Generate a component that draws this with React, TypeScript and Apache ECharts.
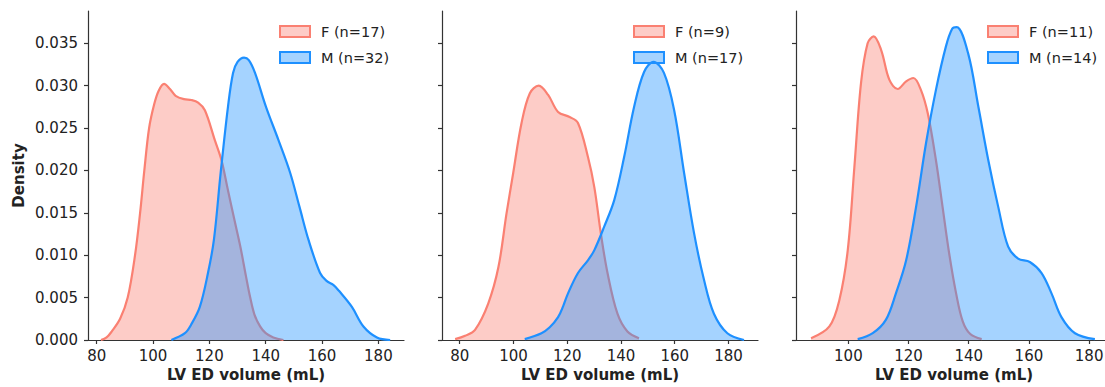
import React, { useEffect, useRef } from "react";
import * as echarts from "echarts";

// Panel 1
const p1F_x = [81.5, 83.5, 85.3, 88.3, 91.0, 93.6, 95.4, 96.9, 98.6, 100.4, 102, 103.9, 106, 108, 111, 113.6, 116, 118.4, 121.9, 124.3, 126.5, 129, 131, 133, 134.5, 136, 138, 140, 142.7, 146.3];
const p1F_y = [0.0, 0.0003, 0.001, 0.0025, 0.005, 0.01, 0.015, 0.02, 0.025, 0.0278, 0.0294, 0.0302, 0.0296, 0.0288, 0.0284, 0.0283, 0.028, 0.0271, 0.0236, 0.0212, 0.0178, 0.014, 0.011, 0.0075, 0.005, 0.003, 0.0016, 0.0008, 0.0003, 0.0];
const p1M_x = [106.5, 111.3, 113.5, 116.6, 119.5, 121.6, 124, 126.6, 128.4, 130, 132.3, 134, 136.2, 140.1, 144.5, 148.7, 152, 155.2, 159.3, 161.5, 164, 166, 170.6, 174.7, 179.5, 184.2];
const p1M_y = [0.0, 0.0008, 0.0018, 0.0039, 0.0079, 0.0118, 0.0197, 0.0275, 0.0315, 0.0328, 0.0333, 0.033, 0.0315, 0.0275, 0.0236, 0.0197, 0.0157, 0.0118, 0.0079, 0.007, 0.0065, 0.0058, 0.0039, 0.0016, 0.0003, 0.0];

// Panel 2
const p2F_x = [78.3, 82, 85.7, 90.6, 94.4, 97.4, 99.9, 103, 106.1, 109.4, 112.9, 116.6, 120.9, 124, 127.7, 130.1, 132.5, 135, 138.7, 142.4, 146.7];
const p2F_y = [0.0001, 0.0005, 0.0012, 0.0043, 0.0086, 0.0149, 0.0197, 0.0256, 0.0291, 0.03, 0.0289, 0.0269, 0.0263, 0.0256, 0.0216, 0.018, 0.0126, 0.0079, 0.0031, 0.001, 0.0002];
const p2M_x = [104.2, 110.4, 113.5, 116.6, 118.5, 120.3, 124, 127.7, 130.1, 133.8, 137.5, 141.2, 144.9, 148.6, 152.1, 156, 159.8, 163.5, 167.2, 170.9, 174.6, 179.6, 185.8];
const p2M_y = [0.0001, 0.0008, 0.0015, 0.0027, 0.004, 0.0055, 0.0079, 0.0094, 0.0106, 0.0134, 0.0165, 0.0216, 0.0275, 0.0316, 0.0328, 0.0315, 0.0271, 0.0197, 0.0126, 0.0071, 0.0031, 0.0008, 0.0];

// Panel 3
const p3F_x = [87.6, 93.7, 97, 99.8, 102, 104.2, 106.4, 108.4, 110.9, 113.6, 116.4, 119.2, 121.6, 124.1, 126.4, 129.1, 131.3, 133.5, 135.8, 138, 140.5, 144.3];
const p3F_y = [0.0002, 0.0016, 0.0047, 0.0106, 0.0204, 0.0303, 0.035, 0.0358, 0.0342, 0.0307, 0.0296, 0.0305, 0.0309, 0.0295, 0.0267, 0.0212, 0.0157, 0.0102, 0.0055, 0.0022, 0.0007, 0.0001];
const p3M_x = [103.1, 108.1, 112.5, 115.8, 119.2, 122.5, 125.8, 129.1, 132.4, 134.5, 136, 139.8, 143.2, 146.5, 149.8, 153.1, 156.4, 160.3, 164.2, 167.5, 170.8, 175.3, 181.9];
const p3M_y = [0.0001, 0.0008, 0.0024, 0.0055, 0.0094, 0.0157, 0.0232, 0.0295, 0.0346, 0.0367, 0.0369, 0.0338, 0.0275, 0.0212, 0.0157, 0.011, 0.0096, 0.0092, 0.0079, 0.0055, 0.0027, 0.0008, 0.0001];

const panelNames = [
  ["F (n=17)", "M (n=32)"],
  ["F (n=9)", "M (n=17)"],
  ["F (n=11)", "M (n=14)"],
];
const xRanges = [
  [76.9, 189.1],
  [73.4, 191.0],
  [82.6, 187.6],
];
const xTicks = [
  [80, 100, 120, 140, 160, 180],
  [80, 100, 120, 140, 160, 180],
  [100, 120, 140, 160, 180],
];
const yTicks = [0, 0.005, 0.01, 0.015, 0.02, 0.025, 0.03, 0.035];
const yMax = 0.0388;
const xLabel = "LV ED volume (mL)";
const yLabel = "Density";

const F_LINE = "#FA8072";
const F_FILL = "rgba(250,128,114,0.4)";
const M_LINE = "#1E90FF";
const M_FILL = "rgba(30,144,255,0.4)";
const FONT = "DejaVu Sans";
const AXIS_COLOR = "#333333";
const TEXT_COLOR = "#222222";

const zip = (xs: number[], ys: number[]) => xs.map((x, i) => [x, ys[i]]);

export default function App() {
  const ref = useRef<HTMLDivElement>(null);
  useEffect(() => {
    document.body.style.margin = "0";
    if (!ref.current) return;
    const chart = echarts.init(ref.current, undefined, { renderer: "svg" });

    const gridLefts = [88, 442, 796];
    const gridWidth = 316;
    const legendLefts = [279, 633, 987];
    const data = [
      [zip(p1F_x, p1F_y), zip(p1M_x, p1M_y)],
      [zip(p2F_x, p2F_y), zip(p2M_x, p2M_y)],
      [zip(p3F_x, p3F_y), zip(p3M_x, p3M_y)],
    ];

    const grid = gridLefts.map((l) => ({
      left: l,
      width: gridWidth,
      top: 11,
      height: 329,
      outerBoundsMode: "none",
      containLabel: false,
    }));

    const xAxis = [0, 1, 2].map((i) => ({
      type: "value",
      gridIndex: i,
      min: xRanges[i][0],
      max: xRanges[i][1],
      name: xLabel,
      nameLocation: "middle",
      nameGap: 27,
      nameTextStyle: { fontFamily: FONT, fontSize: 15, fontWeight: "bold", color: TEXT_COLOR },
      splitLine: { show: false },
      axisLine: { show: true, onZero: false, lineStyle: { color: AXIS_COLOR, width: 1.2 } },
      axisTick: { show: true, length: 4, customValues: xTicks[i], lineStyle: { color: AXIS_COLOR, width: 1.2 } },
      axisLabel: {
        show: true,
        customValues: xTicks[i],
        margin: 8,
        fontFamily: FONT,
        fontSize: 15,
        color: TEXT_COLOR,
        formatter: (v: number) => String(Math.round(v)),
      },
    }));

    const yAxis = [0, 1, 2].map((i) => ({
      type: "value",
      gridIndex: i,
      min: 0,
      max: yMax,
      name: i === 0 ? yLabel : "",
      nameLocation: "middle",
      nameGap: 62,
      nameRotate: 90,
      nameTextStyle: { fontFamily: FONT, fontSize: 15, fontWeight: "bold", color: TEXT_COLOR },
      splitLine: { show: false },
      axisLine: { show: true, onZero: false, lineStyle: { color: AXIS_COLOR, width: 1.2 } },
      axisTick: { show: true, length: 4, customValues: yTicks, lineStyle: { color: AXIS_COLOR, width: 1.2 } },
      axisLabel: {
        show: i === 0,
        customValues: yTicks,
        margin: 10,
        fontFamily: FONT,
        fontSize: 15,
        color: TEXT_COLOR,
        formatter: (v: number) => v.toFixed(3),
      },
    }));

    const series: any[] = [];
    [0, 1, 2].forEach((i) => {
      [0, 1].forEach((j) => {
        series.push({
          type: "line",
          name: panelNames[i][j],
          xAxisIndex: i,
          yAxisIndex: i,
          data: data[i][j],
          smooth: 0.35,
          showSymbol: false,
          symbol: "none",
          lineStyle: { color: j === 0 ? F_LINE : M_LINE, width: 2.2 },
          itemStyle: { color: j === 0 ? F_LINE : M_LINE },
          areaStyle: { color: j === 0 ? F_FILL : M_FILL, opacity: 1, origin: "start" },
          z: 2 + j,
        });
      });
    });

    const legend = [0, 1, 2].map((i) => ({
      show: true,
      orient: "vertical",
      left: legendLefts[i],
      top: 24,
      padding: 0,
      itemWidth: 30,
      itemHeight: 11,
      itemGap: 11,
      icon: "rect",
      selectedMode: false,
      textStyle: { fontFamily: FONT, fontSize: 14.5, color: TEXT_COLOR, padding: [0, 0, 0, 6] },
      data: [
        { name: panelNames[i][0], icon: "rect", itemStyle: { color: F_FILL, borderColor: F_LINE, borderWidth: 2, opacity: 1 } },
        { name: panelNames[i][1], icon: "rect", itemStyle: { color: M_FILL, borderColor: M_LINE, borderWidth: 2, opacity: 1 } },
      ],
    }));

    chart.setOption({
      animation: false,
      backgroundColor: "#ffffff",
      grid,
      xAxis,
      yAxis,
      legend,
      series,
    } as any);

    return () => chart.dispose();
  }, []);

  return <div ref={ref} style={{ width: 1105, height: 387 }} />;
}
